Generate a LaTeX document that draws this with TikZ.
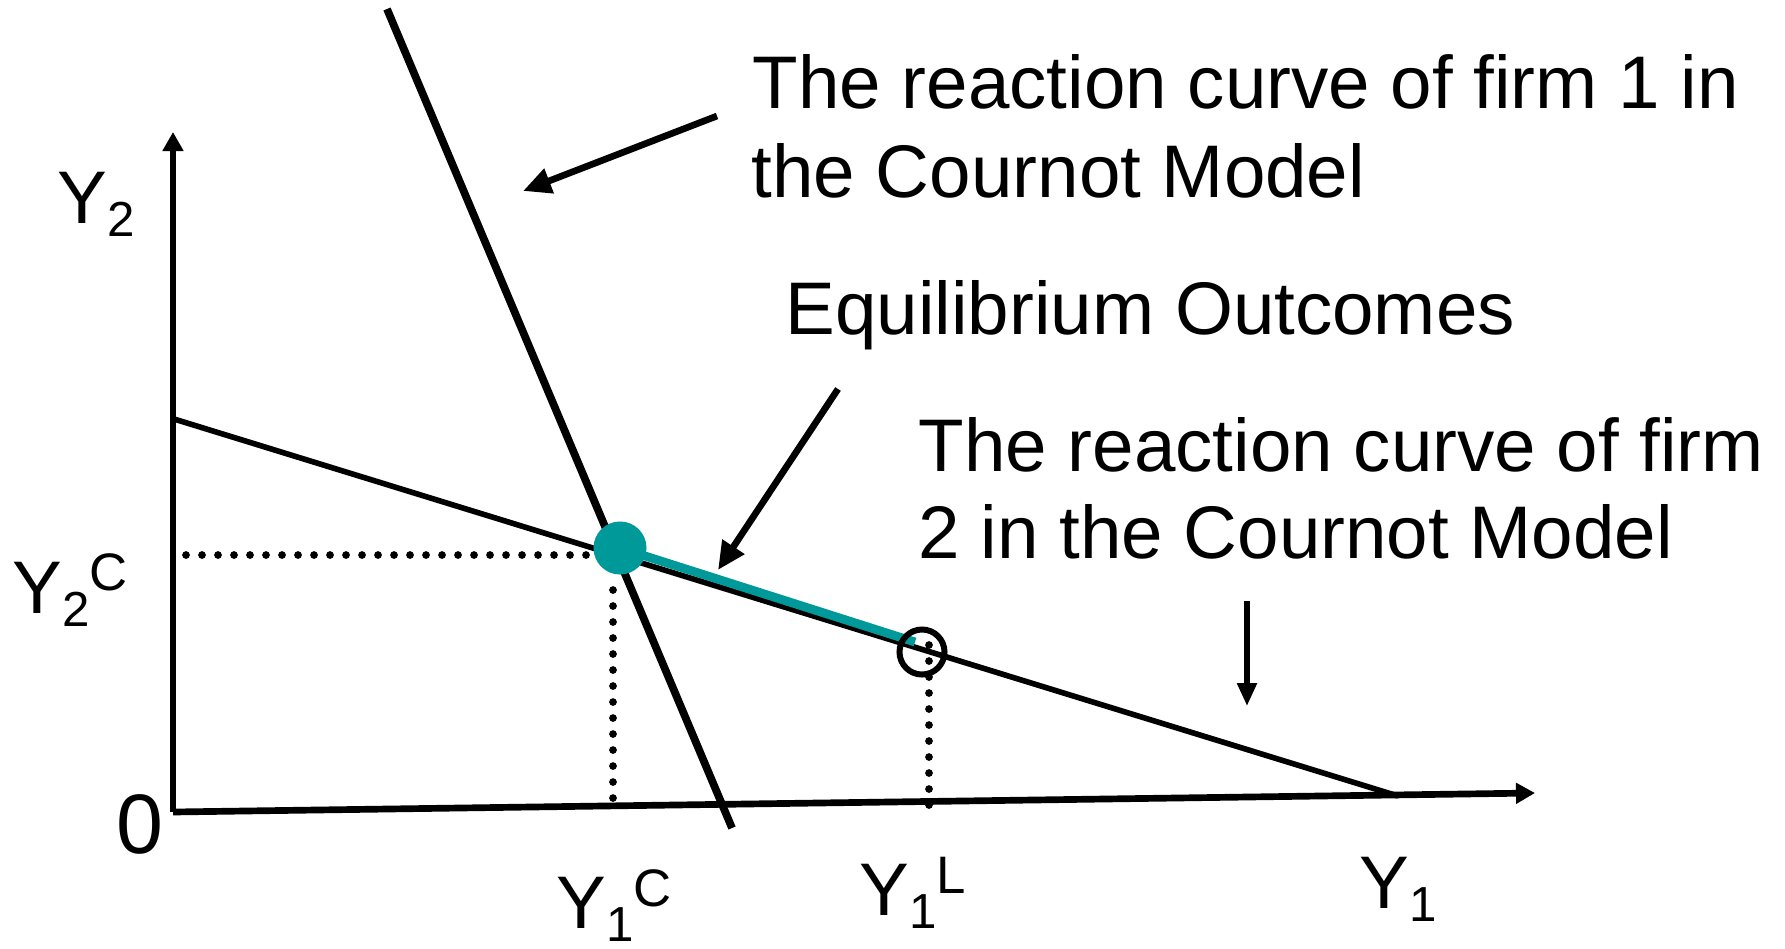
\documentclass[tikz,border=0pt]{standalone}
\usepackage{fontspec}
\setmainfont{Liberation Sans}
\usetikzlibrary{arrows.meta}
\definecolor{eqteal}{RGB}{0,153,153}
\newcommand\lowsub[1]{\raisebox{-0.13cm}{\fontsize{14}{14}\selectfont #1}}
\newcommand\highsup[1]{\raisebox{0.22cm}{\fontsize{15}{15}\selectfont #1}}
\begin{document}
\begin{tikzpicture}[x=0.01cm,y=-0.01cm,
  lbl/.style={inner sep=0pt,anchor=base west,font=\fontsize{21.2}{25}\selectfont},
  axisline/.style={line width=1.9pt,-{Triangle[length=0.19cm,width=0.2cm]}},
  rcurve/.style={line width=2.2pt},
  rcurvetwo/.style={line width=1.6pt},
  pointer/.style={line width=1.9pt,-{Triangle[length=0.28cm,width=0.25cm]}},
  thinpointer/.style={line width=1.5pt,-{Triangle[length=0.23cm,width=0.19cm]}},
  dots/.style={line width=2.2pt,line cap=round,dash pattern=on 0pt off 4.55pt},
]
\useasboundingbox (0,0) rectangle (1785,948);
% coordinates
\coordinate (O) at (173,812);
\coordinate (ytop) at (173,132);
\coordinate (xend) at (1535,793);
\coordinate (r1a) at (387,9);
\coordinate (r1b) at (732,828);
\coordinate (r2a) at (174,419);
\coordinate (r2b) at (1398,796);
\coordinate (hdl) at (186,555);
\coordinate (hdr) at (600,555);
\coordinate (v1b) at (613,803);
\coordinate (v2t) at (929,645);
\coordinate (v2b) at (929,811);
\coordinate (tealend) at (915,642);
\coordinate (a1s) at (717,116);
\coordinate (a1e) at (523,191);
\coordinate (a2s) at (838,389);
\coordinate (a2e) at (718,570);
\coordinate (a3s) at (1247,601);
\coordinate (a3e) at (1247,706);
% axes
\draw[axisline] (O) -- (ytop);
\draw[axisline] (O) -- (xend);
% reaction curves
\draw[rcurve] (r1a) -- (r1b);
\draw[rcurvetwo] (r2a) -- (r2b);
% dotted guides
\node[circle,inner sep=0pt,minimum size=0.52cm] (eq) at (620,548) {};
\draw[dots] (hdl) -- (hdr);
\draw[dots] (613,590) -- (v1b);
\draw[dots] (v2t) -- (v2b);
% equilibrium segment
\draw[eqteal,line width=2.5pt] (eq.center) -- (tealend);
\fill[eqteal] (eq.center) circle[radius=0.265cm];
\node[circle,draw,line width=1.7pt,minimum size=0.45cm,inner sep=0pt] (lead) at (922,652) {};
% pointers
\draw[pointer] (a1s) -- (a1e);
\draw[pointer] (a2s) -- (a2e);
\draw[thinpointer] (a3s) -- (a3e);
% texts
\node[lbl] (t1a) at (752,108) {The reaction curve of firm 1 in};
\node[lbl] (t1b) at (751,197) {the Cournot Model};
\node[lbl] (teq) at (785,334) {Equilibrium Outcomes};
\node[lbl] (t2a) at (918,471) {The reaction curve of firm};
\node[lbl] (t2b) at (918,558) {2 in the Cournot Model};
\node[lbl] (ly2) at (57,223) {Y\lowsub{2}};
\node[lbl] (ly2c) at (12,613) {Y\lowsub{2}\highsup{C}};
\node[lbl,font=\fontsize{24}{28}\selectfont] (lzero) at (116,853) {0};
\node[lbl] (ly1c) at (556,928) {Y\lowsub{1}\highsup{C}};
\node[lbl] (ly1l) at (859,915) {Y\lowsub{1}\highsup{L}};
\node[lbl] (ly1) at (1359,908) {Y\lowsub{1}};
\end{tikzpicture}
\end{document}
